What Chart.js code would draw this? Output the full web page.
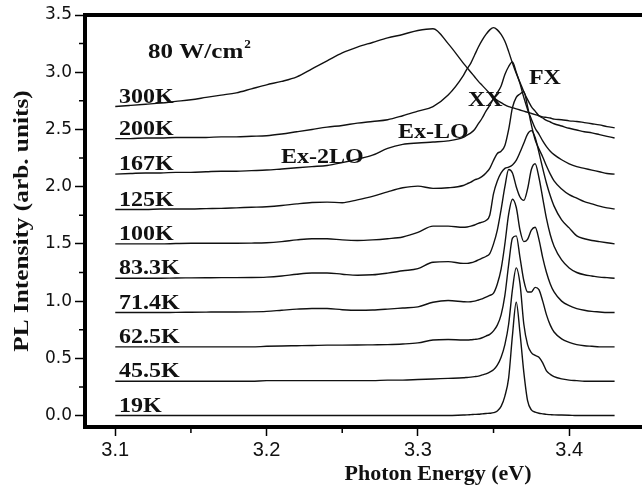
<!DOCTYPE html>
<html>
<head>
<meta charset="utf-8">
<script src="https://cdn.jsdelivr.net/npm/chart.js@4.4.1/dist/chart.umd.min.js"></script>
<style>
  html, body { margin: 0; padding: 0; background: #fff; overflow: hidden; }
  #wrap { width: 724px; height: 497px; }
</style>
</head>
<body>
<div id="wrap"><canvas id="plChart" width="724" height="497"></canvas></div>
<script>
// photon energy grid (eV), finer around the exciton lines
const energy = [
  3.10, 3.11, 3.12, 3.13, 3.14, 3.15, 3.16, 3.17, 3.18, 3.19,
  3.20, 3.21, 3.22, 3.23, 3.24, 3.25, 3.26, 3.27, 3.28, 3.29,
  3.30, 3.31, 3.32, 3.33, 3.3325, 3.335, 3.3375, 3.34, 3.3425, 3.345,
  3.3475, 3.35, 3.3525, 3.355, 3.3575, 3.36, 3.3625, 3.365, 3.3675, 3.37,
  3.3725, 3.375, 3.3775, 3.38, 3.3825, 3.385, 3.3875, 3.39, 3.395, 3.40,
  3.405, 3.41, 3.415, 3.42, 3.425, 3.43
];

const temps = ["19K", "45.5K", "62.5K", "71.4K", "83.3K", "100K", "125K", "167K", "200K", "300K"];
// vertical shift of each spectrum
const offsets = [0, 0.3, 0.6, 0.9, 1.2, 1.5, 1.8, 2.11, 2.42, 2.7];

// normalised PL intensity of each spectrum (before shift)
const pl19 = [
  0, 0, 0, 0, 0, 0, 0, 0, 0, 0,
  0, 0, 0, 0, 0, 0, 0, 0, 0, 0,
  0, 0, 0, 0.005, 0.006, 0.008, 0.01, 0.012, 0.015, 0.018,
  0.02, 0.025, 0.04, 0.08, 0.17, 0.33, 0.70, 0.99, 0.72, 0.38,
  0.13, 0.05, 0.03, 0.02, 0.015, 0.01, 0.008, 0.006, 0.005, 0.003,
  0, 0, 0, 0, 0, 0
];
const pl45 = [
  0, 0, 0, 0, 0, 0, 0, 0, 0, 0,
  0.005, 0.005, 0.005, 0.005, 0.005, 0.005, 0.005, 0.005, 0.01, 0.01,
  0.015, 0.02, 0.025, 0.03, 0.033, 0.036, 0.04, 0.045, 0.055, 0.065,
  0.08, 0.10, 0.14, 0.21, 0.32, 0.50, 0.80, 0.99, 0.85, 0.50,
  0.32, 0.25, 0.225, 0.21, 0.16, 0.09, 0.06, 0.04, 0.02, 0.01,
  0.005, 0, 0, 0, 0, 0
];
const pl62 = [
  0, 0, 0, 0, 0, 0, 0, 0, 0, 0,
  0.005, 0.008, 0.01, 0.012, 0.015, 0.015, 0.016, 0.018, 0.02, 0.025,
  0.035, 0.06, 0.065, 0.06, 0.06, 0.062, 0.066, 0.07, 0.08, 0.095,
  0.11, 0.14, 0.19, 0.28, 0.45, 0.72, 0.95, 0.97, 0.78, 0.58,
  0.48, 0.48, 0.52, 0.50, 0.40, 0.28, 0.19, 0.13, 0.07, 0.04,
  0.02, 0.01, 0.005, 0, 0, 0
];
const pl71 = [
  0, 0, 0, 0, 0.002, 0.003, 0.004, 0.005, 0.005, 0.006,
  0.01, 0.02, 0.03, 0.036, 0.035, 0.025, 0.02, 0.022, 0.03, 0.04,
  0.05, 0.09, 0.105, 0.095, 0.093, 0.095, 0.10, 0.11, 0.12, 0.135,
  0.15, 0.17, 0.25, 0.38, 0.60, 0.86, 0.99, 0.92, 0.72, 0.62,
  0.64, 0.72, 0.745, 0.64, 0.48, 0.35, 0.25, 0.18, 0.10, 0.06,
  0.035, 0.02, 0.01, 0.005, 0, 0
];
const pl83 = [
  0, 0, 0, 0, 0.002, 0.003, 0.004, 0.005, 0.005, 0.006,
  0.01, 0.02, 0.035, 0.045, 0.046, 0.035, 0.026, 0.03, 0.045, 0.065,
  0.084, 0.14, 0.145, 0.13, 0.13, 0.135, 0.145, 0.16, 0.175, 0.19,
  0.215, 0.30, 0.42, 0.60, 0.80, 0.95, 0.92, 0.80, 0.71, 0.68,
  0.78, 0.95, 1.0, 0.88, 0.70, 0.52, 0.38, 0.28, 0.16, 0.09,
  0.05, 0.03, 0.02, 0.01, 0.005, 0
];
const pl100 = [
  0, 0, 0, 0, 0.003, 0.005, 0.005, 0.006, 0.006, 0.007,
  0.01, 0.02, 0.035, 0.045, 0.045, 0.035, 0.03, 0.035, 0.045, 0.06,
  0.10, 0.155, 0.155, 0.145, 0.148, 0.155, 0.165, 0.18, 0.19, 0.205,
  0.25, 0.44, 0.55, 0.62, 0.66, 0.67, 0.69, 0.73, 0.80, 0.88,
  0.96, 0.99, 0.93, 0.80, 0.66, 0.53, 0.42, 0.33, 0.21, 0.14,
  0.07, 0.045, 0.03, 0.02, 0.01, 0
];
const pl125 = [
  0, 0, 0, 0.005, 0.005, 0.005, 0.008, 0.01, 0.015, 0.02,
  0.025, 0.035, 0.05, 0.062, 0.065, 0.06, 0.085, 0.115, 0.155, 0.19,
  0.205, 0.185, 0.19, 0.21, 0.225, 0.24, 0.26, 0.27, 0.29, 0.32,
  0.36, 0.43, 0.49, 0.51, 0.56, 0.70, 0.89, 0.98, 1.01, 1.03,
  0.90, 0.74, 0.61, 0.53, 0.46, 0.38, 0.31, 0.25, 0.18, 0.13,
  0.10, 0.07, 0.05, 0.03, 0.015, 0.005
];
const pl167 = [
  0, 0.005, 0.01, 0.01, 0.015, 0.015, 0.02, 0.025, 0.025, 0.03,
  0.035, 0.045, 0.055, 0.065, 0.075, 0.10, 0.13, 0.165, 0.225, 0.26,
  0.272, 0.28, 0.29, 0.32, 0.34, 0.36, 0.39, 0.44, 0.49, 0.55,
  0.60, 0.66, 0.71, 0.77, 0.87, 0.94, 0.98, 0.89, 0.79, 0.67,
  0.565, 0.48, 0.40, 0.35, 0.29, 0.24, 0.20, 0.17, 0.125, 0.09,
  0.065, 0.05, 0.035, 0.02, 0.005, 0
];
const pl200 = [
  0, 0, 0.005, 0.005, 0.01, 0.01, 0.01, 0.015, 0.015, 0.02,
  0.025, 0.04, 0.06, 0.08, 0.10, 0.115, 0.135, 0.15, 0.165, 0.20,
  0.24, 0.28, 0.38, 0.55, 0.61, 0.66, 0.73, 0.80, 0.86, 0.91,
  0.95, 0.97, 0.95, 0.91, 0.85, 0.76, 0.66, 0.57, 0.49, 0.41,
  0.34, 0.28, 0.24, 0.20, 0.18, 0.16, 0.145, 0.13, 0.11, 0.09,
  0.075, 0.06, 0.05, 0.035, 0.02, 0.005
];
const pl300 = [
  0, 0.01, 0.02, 0.03, 0.045, 0.06, 0.08, 0.10, 0.12, 0.155,
  0.19, 0.22, 0.26, 0.33, 0.40, 0.47, 0.52, 0.56, 0.60, 0.63,
  0.665, 0.68, 0.55, 0.38, 0.34, 0.30, 0.26, 0.22, 0.185, 0.15,
  0.115, 0.08, 0.055, 0.035, 0.015, 0, -0.01, -0.02, -0.03, -0.04,
  -0.05, -0.06, -0.07, -0.08, -0.09, -0.095, -0.10, -0.11, -0.115, -0.125,
  -0.13, -0.14, -0.15, -0.16, -0.175, -0.185
];
const spectra = [pl19, pl45, pl62, pl71, pl83, pl100, pl125, pl167, pl200, pl300];

const xTicks = [3.1, 3.2, 3.3, 3.4];
const yTicks = [0, 0.5, 1.0, 1.5, 2.0, 2.5, 3.0, 3.5];

// peak labels: text, energy, intensity
const peakNames = ["Ex-2LO", "Ex-LO", "XX", "FX"];
const peakX = [3.2096, 3.2869, 3.3331, 3.3734];
const peakY = [2.21, 2.428, 2.707, 2.898];

const serif = "bold 20px 'Liberation Serif', 'Times New Roman', serif";
const stretch = 1.2;

function stretchedText(ctx, text, x, y, font, sx) {
  ctx.save();
  ctx.translate(x, y);
  ctx.scale(sx, 1);
  ctx.font = font;
  ctx.fillText(text, 0, 0);
  const w = ctx.measureText(text).width * sx;
  ctx.restore();
  return w;
}

const decorPlugin = {
  id: "decor",
  afterDraw(chart) {
    const ctx = chart.ctx;
    const a = chart.chartArea;
    const xs = chart.scales.x;
    const ys = chart.scales.y;
    ctx.save();
    ctx.fillStyle = "#111";
    ctx.strokeStyle = "#000";

    // frame
    ctx.lineWidth = 4;
    ctx.strokeRect(a.left, a.top, a.right - a.left, a.bottom - a.top);

    // minor ticks
    ctx.lineWidth = 1.5;
    ctx.beginPath();
    for (let v = 0.25; v < 3.5; v += 0.5) {
      const py = ys.getPixelForValue(v);
      ctx.moveTo(a.left - 6, py);
      ctx.lineTo(a.left, py);
    }
    for (let v = 3.15; v < 3.5; v += 0.1) {
      const px = xs.getPixelForValue(v);
      ctx.moveTo(px, a.bottom);
      ctx.lineTo(px, a.bottom + 6);
    }
    ctx.stroke();

    // temperature labels
    ctx.textBaseline = "alphabetic";
    ctx.textAlign = "left";
    temps.forEach((t, i) => {
      stretchedText(ctx, t, xs.getPixelForValue(3.1025), ys.getPixelForValue(offsets[i] + 0.035), serif, stretch);
    });

    // peak labels
    peakNames.forEach((t, i) => {
      stretchedText(ctx, t, xs.getPixelForValue(peakX[i]), ys.getPixelForValue(peakY[i]), serif, stretch);
    });

    // excitation density
    const px0 = xs.getPixelForValue(3.1217);
    const py0 = ys.getPixelForValue(3.125);
    const w = stretchedText(ctx, "80 W/cm", px0, py0, serif, 1.25);
    stretchedText(ctx, "2", px0 + w + 1, py0 - 10, "bold 12px 'Liberation Serif', serif", 1.1);

    // axis titles
    ctx.textAlign = "center";
    ctx.font = "bold 22px 'Liberation Serif', 'Times New Roman', serif";
    ctx.fillText("Photon Energy (eV)", 438, 480);
    ctx.translate(28, 221);
    ctx.rotate(-Math.PI / 2);
    ctx.scale(1.15, 1);
    ctx.fillText("PL Intensity (arb. units)", 0, 0);
    ctx.restore();
  }
};

const datasets = spectra.map((vals, i) => ({
  label: temps[i],
  data: energy.map((e, j) => ({ x: e, y: offsets[i] + vals[j] })),
  borderColor: "#111",
  borderWidth: 1.4,
  pointRadius: 0,
  fill: false,
  cubicInterpolationMode: "monotone"
}));

new Chart(document.getElementById("plChart"), {
  type: "line",
  data: { datasets },
  options: {
    responsive: false,
    animation: false,
    devicePixelRatio: 1,
    layout: { padding: { left: 0, right: 3.5, top: 15, bottom: 0 } },
    plugins: { legend: { display: false }, tooltip: { enabled: false } },
    scales: {
      x: {
        type: "linear",
        min: 3.08,
        max: 3.5,
        afterBuildTicks: s => { s.ticks = xTicks.map(v => ({ value: v })); },
        afterFit: s => { s.height = 70; },
        grid: { drawOnChartArea: false, drawTicks: true, tickLength: 9, tickWidth: 1.5, tickColor: "#000" },
        border: { display: false },
        ticks: {
          autoSkip: false,
          maxRotation: 0,
          padding: 2,
          color: "#111",
          font: { family: "'Liberation Sans', Arial, sans-serif", size: 20 },
          callback: v => v.toFixed(1)
        }
      },
      y: {
        min: -0.1,
        max: 3.5,
        afterBuildTicks: s => { s.ticks = yTicks.map(v => ({ value: v })); },
        afterFit: s => { s.width = 85; },
        grid: { drawOnChartArea: false, drawTicks: true, tickLength: 10, tickWidth: 1.5, tickColor: "#000" },
        border: { display: false },
        ticks: {
          padding: 3,
          color: "#111",
          font: { family: "'DejaVu Sans', sans-serif", size: 17 },
          callback: v => v.toFixed(1)
        }
      }
    }
  },
  plugins: [decorPlugin]
});
</script>
</body>
</html>
